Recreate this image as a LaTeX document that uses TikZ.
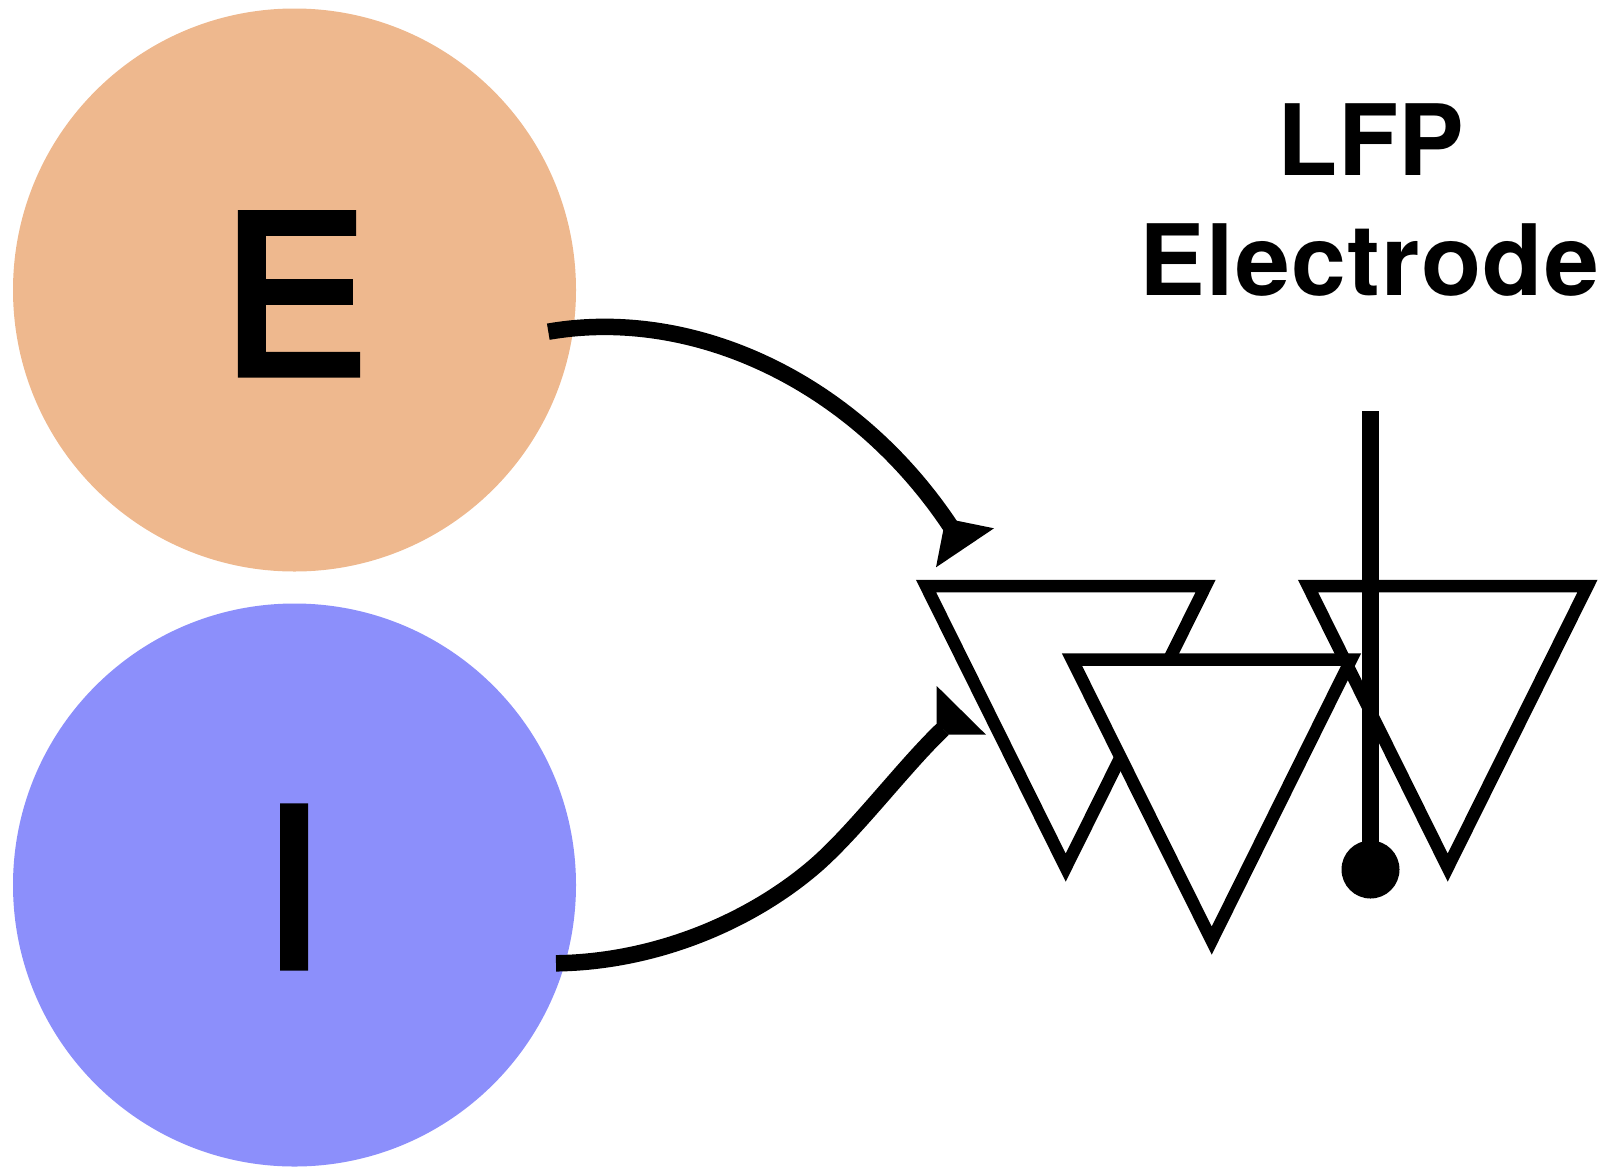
\documentclass[tikz,border=0pt]{standalone}
\usepackage{fontspec}
\setmainfont{TeX Gyre Heros}
\newfontfamily\bigfont[FakeBold=3.5]{TeX Gyre Heros}
\definecolor{excfill}{HTML}{EEB88E}
\definecolor{inhfill}{HTML}{8C8FFB}
\tikzset{
  popcircle/.style={circle,draw=none,minimum size=563pt,inner sep=0pt,font=\bigfont\fontsize{219}{219}\selectfont},
  txtlabel/.style={inner sep=0pt,anchor=base,font=\bfseries\fontsize{98.5}{98.5}\selectfont},
  neuron/.style={draw=black,fill=white,line width=12.5pt,line join=miter,miter limit=20},
  synapse/.style={draw=black,line width=16.5pt,line cap=butt},
  tipfill/.style={fill=black,draw=none},
  probe/.style={draw=black,line width=17pt,line cap=butt},
  probetip/.style={circle,fill=black,draw=none,minimum size=58pt,inner sep=0pt}
}
\begin{document}
\begin{tikzpicture}[x=1pt,y=-1pt]
\useasboundingbox (0,0) rectangle (1608,1170);
% populations
\node[popcircle,fill=excfill] (E) at (294.5,290) {\raisebox{-3.9pt}[\height][0pt]{\kern1ptE}};
\node[popcircle,fill=inhfill] (I) at (294.5,885) {\raisebox{-2pt}[\height][0pt]{\kern-4pt I}};
% text
\node[txtlabel] (lfp) at (1371,175) {LFP};
\node[txtlabel] (electrode) at (1369.5,295) {\addfontfeature{LetterSpace=1.3}Electrode};
% pyramidal cells
\draw[neuron] (1308,586) -- (1587.5,586) -- (1447.7,867.6) -- cycle;
\draw[neuron] (926,586) -- (1205.6,586) -- (1065.7,867.6) -- cycle;
\draw[neuron] (1072,659.6) -- (1351,659.6) -- (1211.7,940.6) -- cycle;
% synapses
\coordinate (eStart) at (548.3,331.7);
\coordinate (eEnd) at (951,527);
\coordinate (iStart) at (556,963.3);
\coordinate (iMid) at (815,866);
\coordinate (iEnd) at (943,729);
\draw[synapse] (eStart) .. controls (690,307) and (852,378) .. (eEnd);
\draw[synapse] (iStart) .. controls (655,962) and (750,922) .. (iMid)
  .. controls (855,831.5) and (905,765) .. (iEnd);
\fill[tipfill] (956.7,520.7) -- (994,528.3) -- (936,567.3) -- (943.3,530) -- cycle;
\fill[tipfill] (936.7,686) -- (986,734.7) -- (948.3,734.7) -- (936.7,723.3) -- cycle;
% electrode
\coordinate (probeTop) at (1370.5,411);
\node[probetip] (probeDot) at (1370.5,869.5) {};
\draw[probe] (probeTop) -- (probeDot.center);
\end{tikzpicture}
\end{document}
